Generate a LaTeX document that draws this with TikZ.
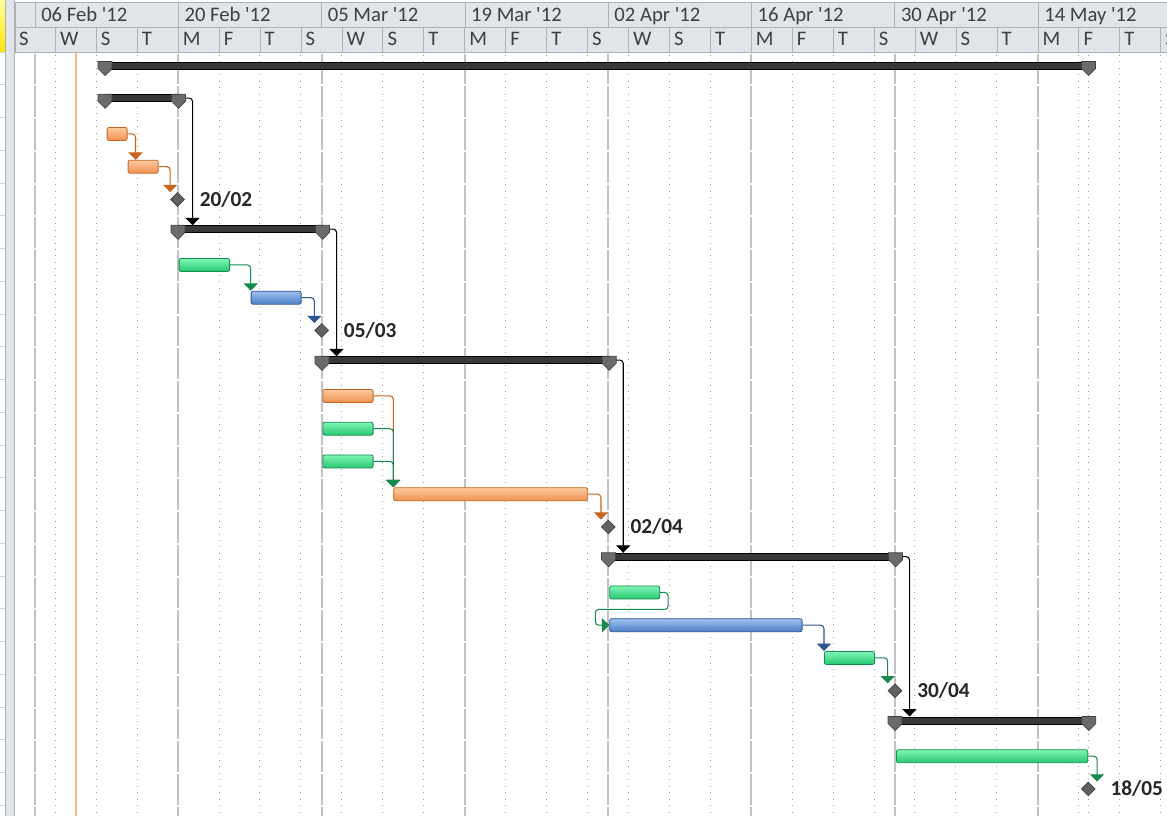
\documentclass[tikz,border=0pt]{standalone}
\usepackage{fontspec}
\setmainfont{Carlito}
\usetikzlibrary{positioning,shapes,arrows.meta}
\definecolor{hdrfill}{HTML}{E1E4E9}
\definecolor{hdrline}{HTML}{AEB2B8}
\definecolor{hdrtext}{HTML}{3F3F3F}
\definecolor{gridgray}{HTML}{C2C2C2}
\definecolor{dotgray}{HTML}{9C9C9C}
\definecolor{todayline}{HTML}{F9B28A}
\definecolor{orangelight}{HTML}{FCCBA2}
\definecolor{orangemid}{HTML}{EE9050}
\definecolor{orangedark}{HTML}{C9641C}
\definecolor{greenlight}{HTML}{80F5B5}
\definecolor{greenmid}{HTML}{25C872}
\definecolor{greendark}{HTML}{168A4C}
\definecolor{bluelight}{HTML}{9EC2EF}
\definecolor{bluemid}{HTML}{4C7EC6}
\definecolor{bluedark}{HTML}{2B5593}
\tikzstyle{summary} = [draw=black, fill=black!78, rectangle, inner sep=0pt, minimum height=5.25pt, anchor=west]
\tikzstyle{sumcap} = [draw=black!75, fill=black!58, line width=0.5pt]
\tikzstyle{task} = [rectangle, rounded corners=1.5pt, inner sep=0pt, minimum height=9.8pt, anchor=west, line width=0.6pt]
\tikzstyle{orangetask} = [task, draw=orangedark, top color=orangelight, bottom color=orangemid]
\tikzstyle{greentask} = [task, draw=greendark, top color=greenlight, bottom color=greenmid]
\tikzstyle{bluetask} = [task, draw=bluedark, top color=bluelight, bottom color=bluemid]
\tikzstyle{milestone} = [diamond, draw=black!75, fill=black!62, inner sep=0pt, minimum size=10.5pt, line width=0.5pt]
\tikzstyle{datelabel} = [inner sep=0pt, font=\fontsize{16}{18}\selectfont\bfseries, text=black!85]
\tikzstyle{hdr} = [inner sep=0pt, anchor=base west, font=\fontsize{15.5}{18}\selectfont, text=hdrtext]
\tikzstyle{line} = [draw, rounded corners=2.5pt, line width=0.8pt, -{Triangle[width=10.5pt,length=5.5pt]}]
\tikzset{barlen/.style={minimum width=#1*0.75pt}}
\newcommand{\sumcaps}[1]{%
  \foreach \corner in {north west,north east}
    \path[sumcap] (#1.\corner) ++(-7,0) -- ++(14,0) -- ++(0,7) -- ++(-7,7) -- ++(-7,-7) -- cycle;}
\pgfdeclarelayer{background}
\pgfsetlayers{background,main}

\begin{document}
\begin{tikzpicture}[x=0.75pt, y=-0.75pt]
    \useasboundingbox (0,0) rectangle (1167,816);
    % Grid
    \begin{pgfonlayer}{background}
    \fill[white] (0,0) rectangle (1167,816);
    \foreach \k in {0,...,23}
        \draw[hdrline!60] (0,52+32.75*\k) -- (5,52+32.75*\k);
    \foreach \j in {0,...,7}
        \draw[gridgray, line width=1.5pt, dash pattern=on 23.06pt off 1.5pt] (35+143.29*\j,53.75) -- (35+143.29*\j,816);
    \foreach \i in {1,2,3,5,6,7,8,9,10,12,13,14,15,16,17,19,20,21,22,23,24,26,27,28}
        \draw[dotgray, line width=0.75pt, dash pattern=on 0.75pt off 4.1pt] (14.3+40.94*\i,55) -- (14.3+40.94*\i,816);
    \draw[dotgray, line width=0.75pt, dash pattern=on 0.75pt off 4.1pt] (1088.3,55) -- (1088.3,816);
    \draw[todayline, line width=1.1pt] (76,52) -- (76,816);
    \end{pgfonlayer}

    % Place nodes
    \node [summary, barlen=983] (s0) at (105,65.3) {};
    \node [summary, barlen=73] (s1) at (105,98.05) {};
    \node [orangetask, barlen=20] (t2) at (106.7,133.95) {};
    \node [orangetask, barlen=30] (t3) at (127.7,166.7) {};
    \node [milestone] (m4) at (177.5,199.45) {};
    \node [datelabel, right=11pt of m4] (l4) {20/02};
    \node [summary, barlen=144] (s5) at (178,229.05) {};
    \node [greentask, barlen=50.5] (t6) at (178.7,264.95) {};
    \node [bluetask, barlen=50] (t7) at (250.7,297.7) {};
    \node [milestone] (m8) at (321.7,330.45) {};
    \node [datelabel, right=11pt of m8] (l8) {05/03};
    \node [summary, barlen=286.7] (s9) at (322,360.05) {};
    \node [orangetask, barlen=50.2] (t10) at (322.5,395.95) {};
    \node [greentask, barlen=50.2] (t11) at (322.5,428.7) {};
    \node [greentask, barlen=50.2] (t12) at (322.5,461.45) {};
    \node [orangetask, barlen=194] (t13) at (393.3,494.2) {};
    \node [milestone] (m14) at (608.3,526.95) {};
    \node [datelabel, right=11pt of m14] (l14) {02/04};
    \node [summary, barlen=286.5] (s15) at (608.5,556.55) {};
    \node [greentask, barlen=50] (t16) at (609.3,592.45) {};
    \node [bluetask, barlen=192.4] (t17) at (609.3,625.2) {};
    \node [greentask, barlen=50] (t18) at (824,657.95) {};
    \node [milestone] (m19) at (895,690.7) {};
    \node [datelabel, right=11pt of m19] (l19) {30/04};
    \node [summary, barlen=193.3] (s20) at (895,720.3) {};
    \node [greentask, barlen=191.3] (t21) at (896,756.2) {};
    \node [milestone] (m22) at (1088.3,788.95) {};
    \node [datelabel, right=11pt of m22] (l22) {18/05};
    \sumcaps{s0}
    \sumcaps{s1}
    \sumcaps{s5}
    \sumcaps{s9}
    \sumcaps{s15}
    \sumcaps{s20}

    % Draw edges
    \begin{pgfonlayer}{background}
    \path [line, draw=orangedark] (t2.east) -| ([xshift=6pt]t2.east |- t3.north);
    \path [line, draw=orangedark] (t3.east) -| (m4.west |- m4.north);
    \path [line, draw=greendark] (t6.east) -| (t7.north west);
    \path [line, draw=bluedark] (t7.east) -| (m8.west |- m8.north);
    \path [line, draw=orangedark] (t10.east) -| (t13.north west);
    \path [line, draw=greendark] (t11.east) -| (t13.north west);
    \path [line, draw=greendark] (t12.east) -| (t13.north west);
    \path [line, draw=orangedark] (t13.east) -| (m14.west |- m14.north);
    \path [line, draw=greendark] (t16.east) -| ++(8,17) -| ([xshift=-10.5pt]t17.west) -- (t17.west);
    \path [line, draw=bluedark] (t17.east) -| (t18.north west);
    \path [line, draw=greendark] (t18.east) -| (m19.west |- m19.north);
    \path [line, draw=greendark] (t21.east) -| ([xshift=6.75pt]t21.east |- m22.north);
    \path [line, draw=black] (s1.east) -| ([xshift=10.5pt]s1.east |- s5.north);
    \path [line, draw=black] (s5.east) -| ([xshift=10.5pt]s5.east |- s9.north);
    \path [line, draw=black] (s9.east) -| ([xshift=10.5pt]s9.east |- s15.north);
    \path [line, draw=black] (s15.east) -| ([xshift=10.5pt]s15.east |- s20.north);
    \end{pgfonlayer}

    % Timescale
    \fill[top color=yellow!40!white, bottom color=yellow!80!orange] (0,0) rectangle (5,52);
    \filldraw[fill=hdrfill, draw=hdrline] (5.5,-1) rectangle (14.5,817);
    \fill[hdrfill] (15,2) rectangle (1167,52);
    \draw[hdrline] (15,2) -- (1167,2) (15,27) -- (1167,27) (15,52) -- (1167,52) (15,2) -- (15,52);
    \foreach \lab [count=\j from 0] in {06 Feb,20 Feb,05 Mar,19 Mar,02 Apr,16 Apr,30 Apr,14 May} {
        \draw[hdrline] (35+143.29*\j,2) -- (35+143.29*\j,27);
        \node[hdr] (wk\j) at (41+143.29*\j,21.5) {\lab\ \textquotesingle12};
    }
    \foreach \lab [count=\i from 0] in {S,W,S,T,M,F,T,S,W,S,T,M,F,T,S,W,S,T,M,F,T,S,W,S,T,M,F,T,S} {
        \draw[hdrline] (14.3+40.94*\i,27) -- (14.3+40.94*\i,52);
        \node[hdr] (day\i) at (18.8+40.94*\i,45.5) {\lab};
    }
\end{tikzpicture}
\end{document}
